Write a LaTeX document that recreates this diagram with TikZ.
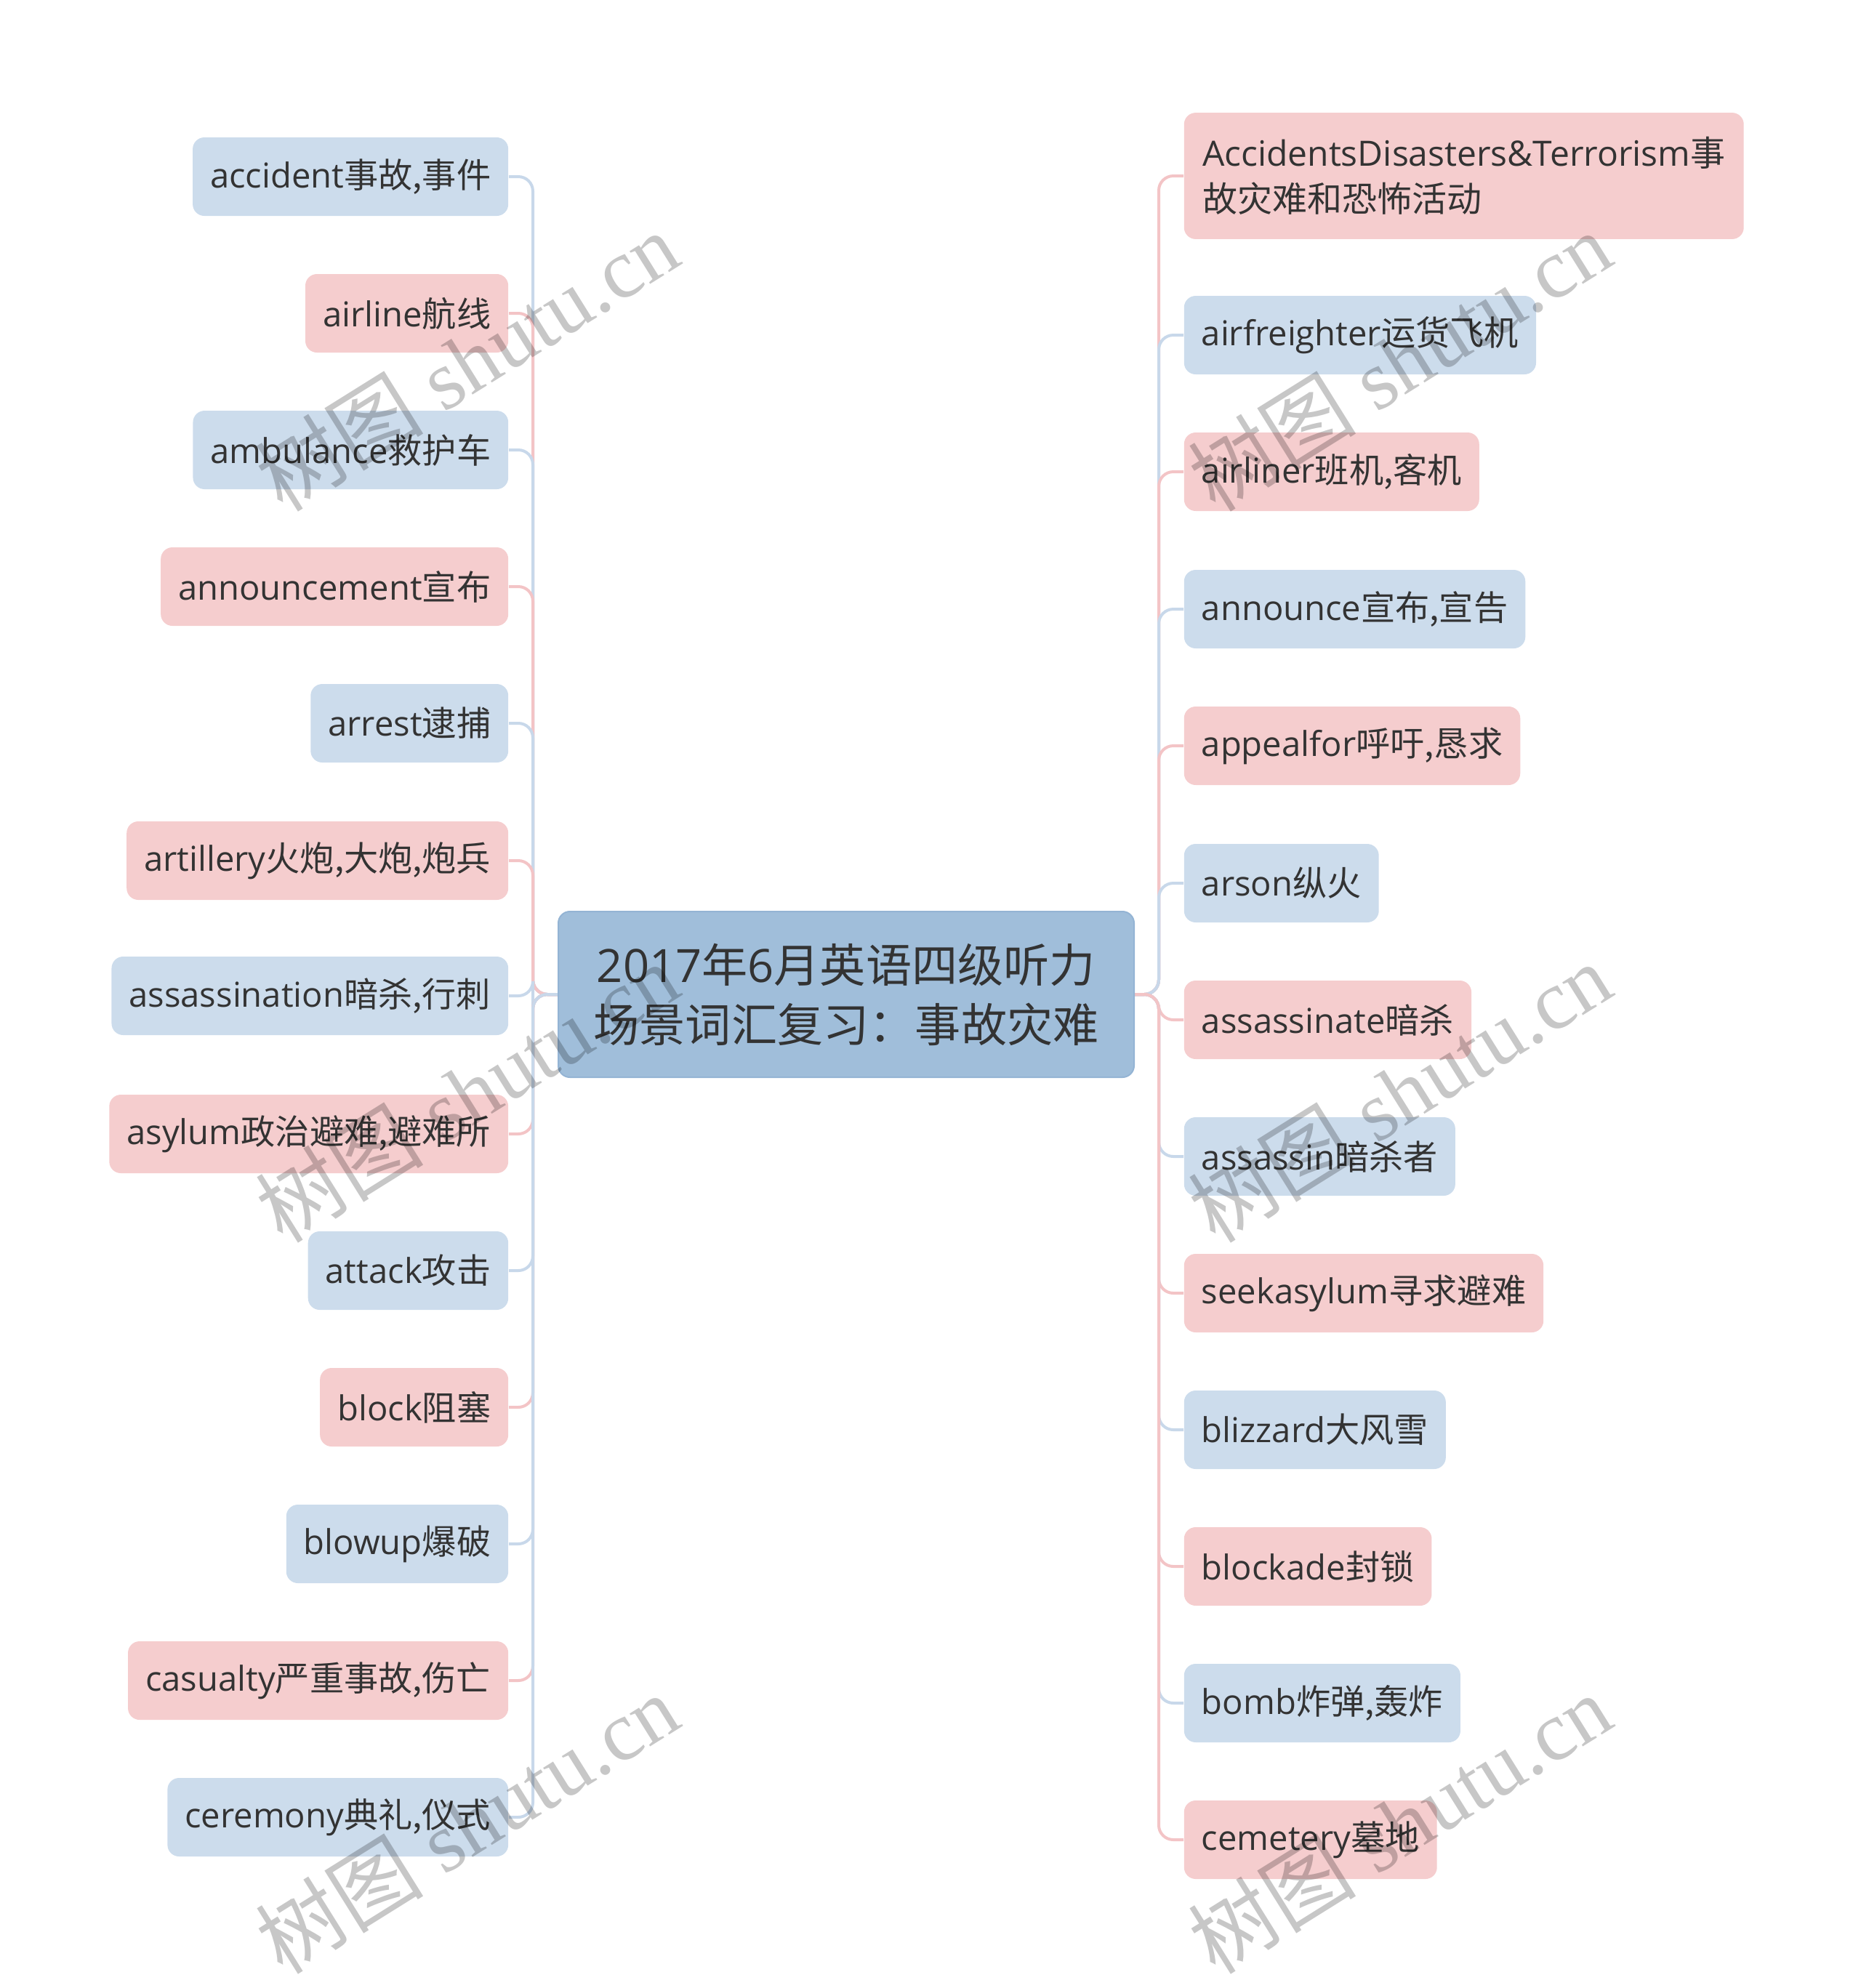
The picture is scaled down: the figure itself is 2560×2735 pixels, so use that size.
\documentclass[tikz,border=0pt]{standalone}
\usepackage{fontspec}
\setmainfont{Open Sans}
\newfontfamily\zhfont{Noto Sans CJK SC}
\newfontfamily\wmfont{Liberation Serif}
\newcommand\zh[1]{{\zhfont #1}}
\usetikzlibrary{backgrounds}
\definecolor{leafblue}{RGB}{204,220,236}
\definecolor{leafpink}{RGB}{245,205,206}
\definecolor{lineblue}{RGB}{200,216,234}
\definecolor{linepink}{RGB}{243,196,198}
\definecolor{centerfill}{RGB}{160,190,218}
\definecolor{centerdraw}{RGB}{148,180,212}
\definecolor{txt}{RGB}{51,51,51}
\tikzset{
  leaf/.style={rounded corners=4pt, inner xsep=6pt, inner ysep=0pt, minimum height=27pt, font=\fontsize{11.8pt}{14pt}\selectfont, text=txt},
  bleaf/.style={leaf, fill=leafblue},
  pleaf/.style={leaf, fill=leafpink},
  lleaf/.style={anchor=east},
  rleaf/.style={anchor=west},
  conn/.style={line width=1pt, rounded corners=5pt},
  bconn/.style={conn, draw=lineblue},
  pconn/.style={conn, draw=linepink},
  wm/.style={rotate=32, text=black, opacity=0.22, font=\fontsize{29pt}{31pt}\wmfont}
}
\begin{document}
\begin{tikzpicture}[x=0.25pt, y=-0.25pt]
\path[use as bounding box] (0,0) rectangle (2560,2735);
% central node
\node[rounded corners=4pt, fill=centerfill, draw=centerdraw, line width=0.5pt, minimum width=198pt, minimum height=57pt, align=center, text=txt, font=\fontsize{15.8pt}{20.5pt}\selectfont] (c) at (1164,1368) {2017\zh{年}6\zh{月英语四级听力}\\\zh{场景词汇复习：事故灾难}};
\coordinate (lt) at (733,0);
\coordinate (rt) at (1594,0);
% left leaves
\node[bleaf, lleaf] (l0)  at (700,243)  {accident\zh{事故,事件}};
\node[pleaf, lleaf] (l1)  at (700,431)  {airline\zh{航线}};
\node[bleaf, lleaf] (l2)  at (700,619)  {ambulance\zh{救护车}};
\node[pleaf, lleaf] (l3)  at (700,807)  {announcement\zh{宣布}};
\node[bleaf, lleaf] (l4)  at (700,995)  {arrest\zh{逮捕}};
\node[pleaf, lleaf] (l5)  at (700,1184) {artillery\zh{火炮,大炮,炮兵}};
\node[bleaf, lleaf] (l6)  at (700,1370) {assassination\zh{暗杀,行刺}};
\node[pleaf, lleaf] (l7)  at (700,1560) {asylum\zh{政治避难,避难所}};
\node[bleaf, lleaf] (l8)  at (700,1748) {attack\zh{攻击}};
\node[pleaf, lleaf] (l9)  at (700,1936) {block\zh{阻塞}};
\node[bleaf, lleaf] (l10) at (700,2124) {blowup\zh{爆破}};
\node[pleaf, lleaf] (l11) at (700,2312) {casualty\zh{严重事故,伤亡}};
\node[bleaf, lleaf] (l12) at (700,2500) {ceremony\zh{典礼,仪式}};
% right leaves
\node[pleaf, rleaf, align=left, inner ysep=8.3pt, inner xsep=6.3pt, font=\fontsize{12pt}{15.8pt}\selectfont] (r0) at (1628,242) {AccidentsDisasters\&Terrorism\zh{事}\\\zh{故灾难和恐怖活动}};
\node[bleaf, rleaf] (r1)  at (1628,461)  {airfreighter\zh{运货飞机}};
\node[pleaf, rleaf] (r2)  at (1628,649)  {airliner\zh{班机,客机}};
\node[bleaf, rleaf] (r3)  at (1628,838)  {announce\zh{宣布,宣告}};
\node[pleaf, rleaf] (r4)  at (1628,1026) {appealfor\zh{呼吁,恳求}};
\node[bleaf, rleaf] (r5)  at (1628,1215) {arson\zh{纵火}};
\node[pleaf, rleaf] (r6)  at (1628,1403) {assassinate\zh{暗杀}};
\node[bleaf, rleaf] (r7)  at (1628,1591) {assassin\zh{暗杀者}};
\node[pleaf, rleaf] (r8)  at (1628,1779) {seekasylum\zh{寻求避难}};
\node[bleaf, rleaf] (r9)  at (1628,1967) {blizzard\zh{大风雪}};
\node[pleaf, rleaf] (r10) at (1628,2155) {blockade\zh{封锁}};
\node[bleaf, rleaf] (r11) at (1628,2343) {bomb\zh{炸弹,轰炸}};
\node[pleaf, rleaf] (r12) at (1628,2531) {cemetery\zh{墓地}};
% connectors
\begin{scope}[on background layer]
\foreach \n/\s in {l0/bconn,l1/pconn,l2/bconn,l3/pconn,l4/bconn,l5/pconn,l6/bconn,l7/pconn,l8/bconn,l9/pconn,l10/bconn,l11/pconn,l12/bconn}{
  \draw[\s] (c.west) -- (lt |- c.west) -- (lt |- \n.east) -- (\n.east);
}
\foreach \n/\s in {r0/pconn,r1/bconn,r2/pconn,r3/bconn,r4/pconn,r5/bconn,r6/pconn,r7/bconn,r8/pconn,r9/bconn,r10/pconn,r11/bconn,r12/pconn}{
  \draw[\s] (c.east) -- (rt |- c.east) -- (rt |- \n.west) -- (\n.west);
}
\end{scope}
% watermarks
\node[wm] (w1) at (642,497)   {\zh{树图} shutu.cn};
\node[wm] (w2) at (642,1503)  {\zh{树图} shutu.cn};
\node[wm] (w3) at (642,2509)  {\zh{树图} shutu.cn};
\node[wm] (w4) at (1925,497)  {\zh{树图} shutu.cn};
\node[wm] (w5) at (1925,1503) {\zh{树图} shutu.cn};
\node[wm] (w6) at (1925,2509) {\zh{树图} shutu.cn};
\end{tikzpicture}
\end{document}
